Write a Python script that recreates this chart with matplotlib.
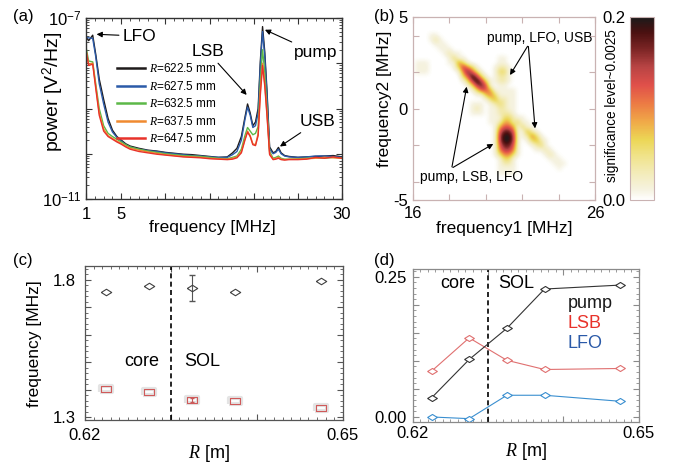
import numpy as np
import matplotlib
matplotlib.use('Agg')
import matplotlib.pyplot as plt
from matplotlib.colors import LinearSegmentedColormap
from matplotlib.ticker import MultipleLocator, LogLocator, NullFormatter

plt.rcParams['font.family'] = ['Liberation Sans', 'DejaVu Sans']
plt.rcParams['mathtext.fontset'] = 'custom'
plt.rcParams['mathtext.rm'] = 'Liberation Sans'
plt.rcParams['mathtext.it'] = 'Liberation Serif:italic'
plt.rcParams['mathtext.bf'] = 'Liberation Sans:bold'
plt.rcParams['xtick.direction'] = 'in'
plt.rcParams['ytick.direction'] = 'in'
plt.rcParams['xtick.top'] = True
plt.rcParams['ytick.right'] = True

# ---- (a) power spectra, log10 of power [V^2/Hz]
freq = [1.0, 1.3, 1.76, 2.1, 2.5, 3.0, 3.5, 4.0, 4.5, 5.0, 5.5, 6.0, 7.0, 8.0, 9.0,
        10.0, 11.0, 12.0, 13.0, 14.0, 15.0, 16.0, 17.0, 17.6, 18.1, 18.6, 19.0, 19.3,
        19.6, 19.9, 20.2, 20.5, 20.75, 21.0, 21.25, 21.5, 21.8, 22.2, 22.5, 22.8,
        23.1, 23.5, 24.0, 25.0, 26.0, 27.0, 28.0, 29.0, 30.0]
pw_6225 = [-7.42, -7.50, -7.38, -7.80, -8.35, -8.80, -9.22, -9.48, -9.62, -9.70, -9.78,
           -9.83, -9.88, -9.92, -9.94, -9.97, -9.99, -10.01, -10.02, -10.04, -10.06,
           -10.08, -10.07, -9.98, -9.88, -9.62, -9.20, -8.90, -9.10, -9.38, -9.30,
           -9.00, -7.95, -7.19, -7.75, -8.60, -9.85, -9.98, -9.95, -9.86, -9.98,
           -10.04, -10.06, -10.08, -10.07, -10.06, -10.05, -10.04, -10.07]
pw_6275 = [-7.42, -7.44, -7.45, -7.85, -8.45, -8.90, -9.30, -9.52, -9.64, -9.72, -9.80,
           -9.85, -9.90, -9.93, -9.95, -9.98, -10.00, -10.02, -10.04, -10.05, -10.07,
           -10.08, -10.08, -10.02, -9.95, -9.70, -9.25, -8.97, -9.15, -9.42, -9.38,
           -9.10, -8.05, -7.30, -7.85, -8.70, -9.90, -10.00, -9.97, -9.90, -10.00,
           -10.05, -10.07, -10.08, -10.07, -10.05, -10.05, -10.06, -10.08]
pw_6325 = [-7.64, -7.95, -7.97, -8.45, -9.00, -9.38, -9.55, -9.62, -9.68, -9.74, -9.80,
           -9.85, -9.90, -9.94, -9.97, -10.00, -10.02, -10.04, -10.05, -10.06, -10.08,
           -10.10, -10.11, -10.08, -10.05, -9.90, -9.60, -9.42, -9.50, -9.58, -9.55,
           -9.40, -8.40, -7.70, -8.20, -9.00, -9.95, -10.10, -10.08, -10.05, -10.10,
           -10.12, -10.12, -10.11, -10.10, -10.09, -10.10, -10.08, -10.10]
pw_6375 = [-7.70, -8.02, -8.00, -8.50, -9.10, -9.45, -9.60, -9.66, -9.72, -9.77, -9.83,
           -9.88, -9.92, -9.96, -9.99, -10.02, -10.04, -10.06, -10.07, -10.08, -10.10,
           -10.11, -10.12, -10.10, -10.07, -9.95, -9.68, -9.50, -9.60, -9.78, -9.80,
           -9.55, -8.60, -8.00, -8.45, -9.10, -10.00, -10.12, -10.10, -10.08, -10.12,
           -10.13, -10.12, -10.12, -10.11, -10.10, -10.08, -10.09, -10.10]
pw_6475 = [-7.72, -8.05, -8.02, -8.55, -9.15, -9.50, -9.62, -9.68, -9.74, -9.79, -9.85,
           -9.90, -9.95, -9.98, -10.01, -10.03, -10.05, -10.07, -10.08, -10.09, -10.11,
           -10.12, -10.13, -10.12, -10.09, -9.98, -9.70, -9.52, -9.62, -9.80, -9.82,
           -9.60, -8.70, -8.05, -8.50, -9.15, -10.02, -10.13, -10.12, -10.10, -10.13,
           -10.14, -10.13, -10.13, -10.12, -10.08, -10.10, -10.07, -10.10]
spectra = [pw_6225, pw_6275, pw_6325, pw_6375, pw_6475]
spec_labels = ['$R$=622.5 mm', '$R$=627.5 mm', '$R$=632.5 mm', '$R$=637.5 mm', '$R$=647.5 mm']
spec_colors = ['#1e1a1a', '#2b5aa8', '#5cb848', '#f08a30', '#e8322a']

# ---- (b) bicoherence map: 0.25 MHz grid, f1 16..26 (cols), f2 5..-5 (rows)
# each entry: row, first column, levels (0-9, '.' = below significance)
bic_levels = [0, 0.012, 0.035, 0.06, 0.085, 0.105, 0.125, 0.15, 0.175, 0.2]
bic_rows = [
    (4, 4, "11"),
    (5, 4, "121"),
    (6, 5, "111"),
    (7, 6, "111"),
    (8, 7, "1211"),
    (9, 8, "1311.......11"),
    (10, 1, "111....11531......11"),
    (11, 1, "111.....137531...1221"),
    (12, 1, "111......158631..1331"),
    (13, 11, "369731.1221"),
    (14, 11, "13797311221"),
    (15, 12, "137861.11"),
    (16, 13, "1366411111"),
    (17, 14, "114531111"),
    (18, 16, "1342211"),
    (19, 13, "111.123211"),
    (20, 13, "121.112211"),
    (21, 13, "111.112221"),
    (22, 17, "11133211"),
    (23, 17, "112442311"),
    (24, 18, "146641311"),
    (25, 18, "1688611421"),
    (26, 18, "17997112531"),
    (27, 18, "179971.13421"),
    (28, 18, "168861..1231"),
    (29, 18, "157751...1121"),
    (30, 18, "135531.....121"),
    (31, 19, "1331.......111"),
    (32, 19, "1221........111"),
    (33, 19, "1111.........1"),
    (34, 19, "1111"),
]

# ---- (c) frequencies vs R
R_m = [0.6225, 0.6275, 0.6325, 0.6375, 0.6475]
lfo_freq = [1.757, 1.779, 1.772, 1.757, 1.797]
lfo_err = [0.0, 0.0, 0.047, 0.0, 0.0]
sb_freq = [1.401, 1.393, 1.363, 1.358, 1.333]
sb_err = [0.0, 0.0, 0.008, 0.0, 0.0]

# ---- (d) bicoherence vs R
pump_b = [0.034, 0.1025, 0.158, 0.228, 0.235]
lsb_b = [0.0816, 0.141, 0.101, 0.0846, 0.0864]
lfo_b = [0.0, -0.003, 0.0387, 0.0387, 0.028]

W, H = 676, 465


def px_rect(l, t, r, b):
    return [l / W, 1 - b / H, (r - l) / W, (b - t) / H]


def style_axes(ax, color, lw=0.9):
    for s in ax.spines.values():
        s.set_color(color)
        s.set_linewidth(lw)
    ax.tick_params(which='both', color=color, labelsize=12)
    ax.tick_params(which='major', length=4.5, width=0.8)
    ax.tick_params(which='minor', length=2.2, width=0.6)


def draw_errs(ax, x, y, err, color, cap):
    # only points that carry a visible error bar
    pts = [(a, b, e) for a, b, e in zip(x, y, err) if e > 0]
    if pts:
        xs, ys, es = zip(*pts)
        ax.errorbar(xs, ys, yerr=es, fmt='none', ecolor=color, elinewidth=0.8, capsize=cap)


diamond = [(-1.6, 0), (0, 1), (1.6, 0), (0, -1), (-1.6, 0)]
rect = [(-1.6, -1), (1.6, -1), (1.6, 1), (-1.6, 1), (-1.6, -1)]
arr = dict(arrowstyle='-|>', color='k', lw=0.8, mutation_scale=8, shrinkA=1, shrinkB=0)

fig = plt.figure(figsize=(W / 100, H / 100), dpi=100)

# ================= (a)
ax_a = fig.add_axes(px_rect(86, 18, 342, 199))
for p, lab, col in zip(spectra, spec_labels, spec_colors):
    ax_a.plot(freq, 10 ** np.array(p), color=col, lw=1.0, label=lab)
ax_a.set_yscale('log')
ax_a.set_xlim(1, 30)
ax_a.set_ylim(1e-11, 1e-7)
ax_a.set_xticks([1, 5, 10, 15, 20, 25, 30])
ax_a.set_xticklabels(['1', '5', '', '', '', '', '30'])
ax_a.xaxis.set_minor_locator(MultipleLocator(1))
ax_a.set_yticks([1e-11, 1e-10, 1e-9, 1e-8, 1e-7])
ax_a.set_yticklabels(['$10^{-11}$', '', '', '', '$10^{-7}$'])
ax_a.yaxis.set_minor_locator(LogLocator(base=10, subs=np.arange(2, 10) * 1.0, numticks=20))
ax_a.yaxis.set_minor_formatter(NullFormatter())
style_axes(ax_a, '#333333', 1.0)
ax_a.tick_params(axis='x', pad=6)
ax_a.tick_params(axis='y', pad=3)
ax_a.set_xlabel('frequency [MHz]', fontsize=12.5)
ax_a.xaxis.set_label_coords(0.494, -0.115)
ax_a.set_ylabel('power [V$^2$/Hz]', fontsize=14)
ax_a.yaxis.set_label_coords(-0.078, 0.594)
leg = ax_a.legend(loc='upper left', bbox_to_anchor=(0.12, 0.755), frameon=False,
                  fontsize=8.5, handlelength=2.4, handletextpad=0.3, labelspacing=0.38,
                  borderpad=0, borderaxespad=0)
for ln in leg.get_lines():
    ln.set_linewidth(1.8)
ax_a.annotate('LFO', xy=(2.2, 10 ** -7.36), xytext=(5.2, 10 ** -7.40), ha='left',
              va='center', fontsize=12.5, arrowprops=arr)
ax_a.annotate('LSB', xy=(19.2, 10 ** -8.70), xytext=(14.8, 10 ** -7.75), ha='center',
              va='center', fontsize=12.5, arrowprops=arr)
ax_a.annotate('pump', xy=(21.27, 10 ** -7.26), xytext=(27.0, 10 ** -7.77), ha='center',
              va='center', fontsize=12.5, arrowprops=arr)
ax_a.annotate('USB', xy=(22.97, 10 ** -9.84), xytext=(27.2, 10 ** -9.29), ha='center',
              va='center', fontsize=12.5, arrowprops=arr)

# ================= (b)
bic = np.zeros((41, 41))
for i, j0, s in bic_rows:
    for k, ch in enumerate(s):
        if ch != '.':
            bic[i, j0 + k] = bic_levels[int(ch)]

cmap = LinearSegmentedColormap.from_list('sig', [
    (0.0, '#ffffff'), (0.05, '#f6f3e2'), (0.14, '#f3ecbc'), (0.24, '#f0e38a'),
    (0.33, '#ecd655'), (0.43, '#f0a848'), (0.53, '#ec7a44'), (0.63, '#e0504a'),
    (0.73, '#b84444'), (0.83, '#7a2424'), (0.92, '#4a1010'), (1.0, '#1c1a1a')])

ax_b = fig.add_axes(px_rect(412.7, 17.3, 595, 200))
im = ax_b.imshow(bic, extent=[15.875, 26.125, -5.125, 5.125], origin='upper', cmap=cmap,
                 vmin=0, vmax=0.2, interpolation='bicubic', interpolation_stage='data',
                 aspect='auto')
ax_b.set_xlim(16, 26)
ax_b.set_ylim(-5, 5)
ax_b.set_xticks([16, 18, 20, 22, 24, 26])
ax_b.set_xticklabels(['16', '', '', '', '', '26'])
ax_b.set_yticks([-5, -4, -2, 0, 2, 4, 5])
ax_b.set_yticklabels(['-5', '', '', '0', '', '', '5'])
style_axes(ax_b, '#c9b2b2', 0.9)
ax_b.tick_params(axis='x', pad=4)
ax_b.tick_params(axis='y', pad=3.5)
ax_b.set_xlabel('frequency1 [MHz]', fontsize=12.5)
ax_b.xaxis.set_label_coords(0.504, -0.115)
ax_b.set_ylabel('frequency2 [MHz]', fontsize=12.5)
ax_b.yaxis.set_label_coords(-0.114, 0.553)
ax_b.text(22.98, 3.85, 'pump, LFO, USB', ha='center', va='center', fontsize=10)
ax_b.annotate('', xy=(21.34, 1.84), xytext=(22.34, 3.48), arrowprops=arr)
ax_b.annotate('', xy=(22.71, -1.08), xytext=(22.34, 3.48), arrowprops=arr)
ax_b.text(19.24, -3.72, 'pump, LSB, LFO', ha='center', va='center', fontsize=10)
ax_b.annotate('', xy=(18.96, 1.2), xytext=(18.14, -3.26), arrowprops=arr)
ax_b.annotate('', xy=(20.42, -1.93), xytext=(18.14, -3.26), arrowprops=arr)

cax = fig.add_axes(px_rect(630, 17.3, 654.3, 200))
cb = fig.colorbar(im, cax=cax)
cb.outline.set_edgecolor('#c9b2b2')
cax.yaxis.set_ticks_position('left')
cax.yaxis.set_label_position('left')
cb.set_ticks([0, 0.2])
cb.set_ticklabels(['0.0', '0.2'])
cax.tick_params(length=0, labelsize=12, pad=3)
cb.set_label('significance level~0.0025', fontsize=9.8)
cax.yaxis.set_label_coords(-0.45, 0.516)

# ================= (c)
ax_c = fig.add_axes(px_rect(85, 266, 342.7, 420))
ax_c.axvline(0.630, color='k', lw=1.2, ls=(0, (3, 2)))
ax_c.plot(R_m, sb_freq, ls='none', marker=rect, ms=8, mfc='white', mec='#e4e4e4', mew=3)
draw_errs(ax_c, R_m, lfo_freq, lfo_err, '#555555', 2)
draw_errs(ax_c, R_m, sb_freq, sb_err, '#c85a5a', 1.2)
ax_c.plot(R_m, lfo_freq, ls='none', marker=diamond, ms=7.5, mfc='none', mec='#404040',
          mew=0.8)
ax_c.plot(R_m, sb_freq, ls='none', marker=rect, ms=7.5, mfc='none', mec='#d05a5a', mew=0.8)
ax_c.set_xlim(0.62, 0.65)
ax_c.set_ylim(1.289, 1.851)
ax_c.set_xticks([0.62, 0.63, 0.64, 0.65])
ax_c.set_xticklabels(['0.62', '', '', '0.65'])
ax_c.xaxis.set_minor_locator(MultipleLocator(0.001))
ax_c.set_yticks([1.3, 1.4, 1.5, 1.6, 1.7, 1.8])
ax_c.set_yticklabels(['1.3', '', '', '', '', '1.8'])
ax_c.yaxis.set_minor_locator(MultipleLocator(0.02))
style_axes(ax_c, '#555555', 0.9)
ax_c.tick_params(axis='x', pad=5.5)
ax_c.tick_params(axis='y', pad=7)
ax_c.text(0.6266, 1.502, 'core', ha='center', va='center', fontsize=13)
ax_c.text(0.6336, 1.502, 'SOL', ha='center', va='center', fontsize=13)
ax_c.set_xlabel('$R$ [m]', fontsize=13)
ax_c.xaxis.set_label_coords(0.481, -0.15)
ax_c.set_ylabel('frequency [MHz]', fontsize=12.5)
ax_c.yaxis.set_label_coords(-0.167, 0.493)

# ================= (d)
ax_d = fig.add_axes(px_rect(412.7, 269, 638.7, 422.3))
ax_d.axvline(0.630, color='k', lw=1.2, ls=(0, (3, 2)))
for vals, col in [(lfo_b, '#3a8fd0'), (lsb_b, '#e07070'), (pump_b, '#333333')]:
    ax_d.plot(R_m, vals, color=col, lw=0.8, marker=diamond, ms=7, mfc='white', mec=col,
              mew=0.8)
ax_d.set_xlim(0.62, 0.65)
ax_d.set_ylim(-0.0095, 0.2637)
ax_d.set_xticks([0.62, 0.63, 0.64, 0.65])
ax_d.set_xticklabels(['0.62', '', '', '0.65'])
ax_d.xaxis.set_minor_locator(MultipleLocator(0.001))
ax_d.set_yticks([0, 0.05, 0.1, 0.15, 0.2, 0.25])
ax_d.set_yticklabels(['0.00', '', '', '', '', '0.25'])
ax_d.yaxis.set_minor_locator(MultipleLocator(0.01))
style_axes(ax_d, '#8a8a8a', 0.9)
ax_d.tick_params(axis='x', pad=3)
ax_d.tick_params(axis='y', pad=4.5)
ax_d.text(0.6260, 0.2387, 'core', ha='center', va='center', fontsize=13)
ax_d.text(0.6338, 0.2387, 'SOL', ha='center', va='center', fontsize=13)
ax_d.text(0.6406, 0.2025, 'pump', ha='left', va='center', fontsize=13, color='#1a1a1a')
ax_d.text(0.6406, 0.1668, 'LSB', ha='left', va='center', fontsize=13, color='#e8322a')
ax_d.text(0.6406, 0.1310, 'LFO', ha='left', va='center', fontsize=13, color='#2b5aa8')
ax_d.set_xlabel('$R$ [m]', fontsize=13)
ax_d.xaxis.set_label_coords(0.501, -0.12)

# panel letters
for lab, x, y in [('(a)', 23, 16), ('(b)', 384, 16), ('(c)', 23, 260), ('(d)', 384, 261)]:
    fig.text(x / W, 1 - y / H, lab, ha='center', va='center', fontsize=12)

fig.savefig('out.png', dpi=100)
